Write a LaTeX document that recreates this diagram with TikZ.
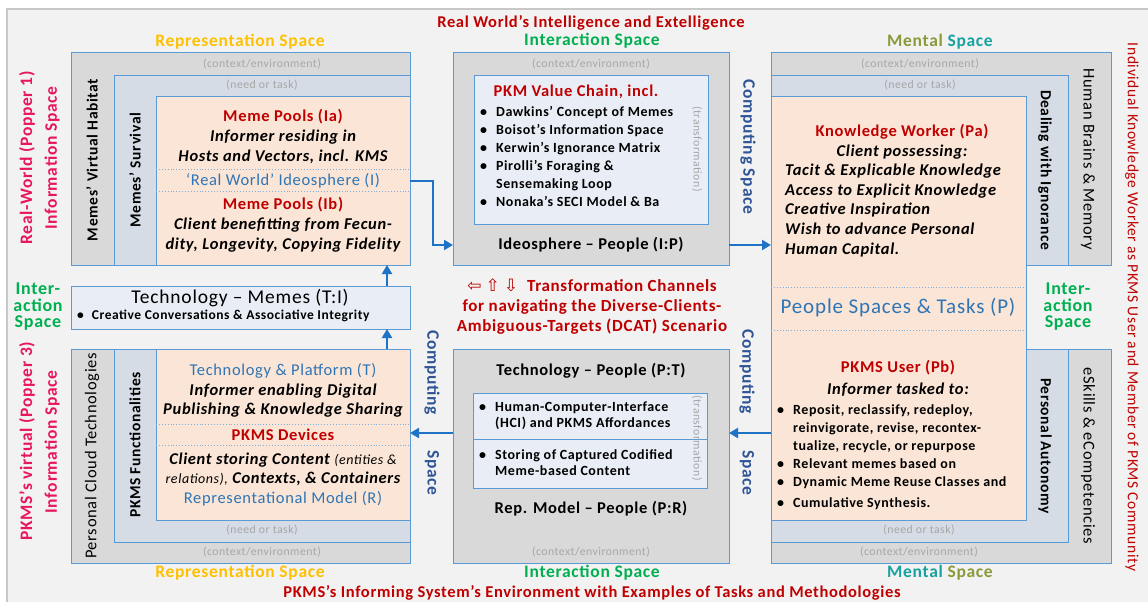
\documentclass[tikz,border=0pt]{standalone}
\usepackage{fontspec}
\setmainfont{Carlito}[LetterSpace=4]
\newfontfamily\symfont{DejaVu Sans}
\usetikzlibrary{fit,arrows.meta}
\definecolor{bgc}{HTML}{F2F2F2}
\definecolor{framec}{HTML}{C8C8C8}
\definecolor{ctxc}{HTML}{D9D9D9}
\definecolor{needc}{HTML}{D6DCE5}
\definecolor{peachc}{HTML}{FBE5D6}
\definecolor{innerc}{HTML}{E9EEF6}
\definecolor{bordc}{HTML}{5B9BD5}
\definecolor{redc}{HTML}{C00000}
\definecolor{bluec}{HTML}{2E75B6}
\definecolor{darkbluec}{HTML}{2F5597}
\definecolor{goldc}{HTML}{FFC000}
\definecolor{greenc}{HTML}{00B050}
\definecolor{pinkc}{HTML}{E8175D}
\definecolor{grayc}{HTML}{A6A6A6}
\definecolor{olivec}{HTML}{8A9A3B}
\definecolor{tealc}{HTML}{17A2A0}
\definecolor{arrc}{HTML}{1F72C4}
\newcommand\fs[2]{\fontsize{#1}{#2}\selectfont}
\begin{document}
\begin{tikzpicture}[x=1pt,y=-1pt,
  box/.style={draw=bordc, line width=1pt, inner sep=0pt, outer sep=0pt},
  ctx/.style={box, fill=ctxc},
  need/.style={box, fill=needc},
  peach/.style={box, fill=peachc},
  inbox/.style={box, fill=innerc},
  lab/.style={inner sep=0pt, align=center},
  gl/.style={lab, text=grayc, font=\fs{11.75}{12}},
  spc/.style={lab, font=\bfseries\fs{17.5}{18}},
  hd/.style={lab, text=redc, font=\bfseries\fs{16.5}{20}},
  bl/.style={lab, text=bluec, font=\fs{16.5}{20}},
  it/.style={lab, font=\bfseries\itshape\fs{16.5}{19.5}},
  vtxt/.style={lab, font=\bfseries\fs{15.5}{18}},
  vreg/.style={lab, font=\fs{16.5}{18}},
  pink/.style={lab, text=pinkc, font=\bfseries\fs{17.5}{18}},
  comp/.style={lab, text=darkbluec, font=\bfseries\fs{17.5}{18}},
  inter/.style={lab, text=greenc, font=\bfseries\fs{18}{16.5}},
  lst/.style={inner sep=0pt, anchor=north west, font=\bfseries\fs{14}{18}},
  dotl/.style={draw=bordc!80, dotted, line width=0.9pt},
  arr/.style={draw=arrc, line width=2pt, -{Triangle[length=9pt,width=10pt]}}
]
\useasboundingbox (0,0) rectangle (1148,602);
\fill[white] (0,0) rectangle (1148,602);
\fill[bgc] (7,9) rectangle (1148,602);
\draw[framec, line width=1.2pt] (7,602) -- (7,9) -- (1148,9);

% ---------- boxes ----------
\node[ctx, fit={(71,53)(410,265)}] (TLctx) {};
\node[need, fit={(114,75)(410,265)}] (TLneed) {};
\node[peach, fit={(156,96)(410,265)}] (TLpeach) {};
\draw[dotl] (156,169) -- (410,169);
\draw[dotl] (156,191) -- (410,191);

\node[ctx, fit={(453,53)(729,265)}] (TMctx) {};
\node[inbox, fit={(474,75)(708,224)}] (TMin) {};

\node[ctx, fit={(771,53)(1111,265)}] (TRctx) {};
\node[need, fit={(771,75)(1068,265)}] (TRneed) {};
\node[ctx, fit={(771,349)(1111,563)}] (BRctx) {};
\node[need, fit={(771,349)(1068,542)}] (BRneed) {};
\node[peach, fit={(771,96)(1026,520)}] (Ppeach) {};
\draw[dotl] (771,287) -- (1026,287);
\draw[dotl] (771,330) -- (1026,330);

\node[inbox, fit={(71,286)(410,329)}] (TMem) {};

\node[ctx, fit={(71,349)(410,563)}] (BLctx) {};
\node[need, fit={(114,349)(410,542)}] (BLneed) {};
\node[peach, fit={(156,349)(410,520)}] (BLpeach) {};
\draw[dotl] (156,424) -- (410,424);
\draw[dotl] (156,445) -- (410,445);

\node[ctx, fit={(453,349)(729,563)}] (BMctx) {};
\node[inbox, fit={(473,393)(707,488)}] (BMin) {};
\draw[draw=bordc, line width=1pt] (473,439) -- (707,439);

% ---------- arrows ----------
\coordinate (k1) at (433,181);
\coordinate (k2) at (433,245);
\draw[arr] (TLpeach.east |- k1) -- (k1) -- (k2) -- (TMctx.west |- k2);
\draw[arr] (TMctx.east |- k2) -- (Ppeach.west |- k2);
\coordinate (k3) at (600,433);
\draw[arr] (Ppeach.west |- k3) -- (BMctx.east |- k3);
\draw[arr] (BMctx.west |- k3) -- (BLpeach.east |- k3);
\coordinate (k4) at (387,300);
\draw[arr] (BLctx.north -| k4) -- (TMem.south -| k4);
\draw[arr] (TMem.north -| k4) -- (TLctx.south -| k4);

% ---------- top-left ----------
\node[spc, text=goldc] (rs1) at (240,42) {Representation Space};
\node[gl] (tlc) at (262,64) {(context/environment)};
\node[gl] (tln) at (262,85) {(need or task)};
\node[hd] (mpa) at (283,117) {Meme Pools (Ia)};
\node[it] (mpat) at (283,147) {Informer residing in\\Hosts and Vectors, incl. KMS};
\node[bl] (rwi) at (283,181) {‘Real World’ Ideosphere (I)};
\node[hd] (mpb) at (283,205) {Meme Pools (Ib)};
\node[it] (mpbt) at (283,235) {Client benefitting from Fecun-\\dity, Longevity, Copying Fidelity};
\node[vtxt, rotate=90] (mvh) at (92,160) {Memes’ Virtual Habitat};
\node[vtxt, rotate=90] (msu) at (135,170) {Memes’ Survival};
\node[pink, rotate=90] (rw1) at (27,158) {Real-World (Popper 1)};
\node[pink, rotate=90] (rw2) at (52,158) {Information Space};

% ---------- technology-memes ----------
\node[lab, font=\fs{19.5}{20}] (tmt) at (240,298) {Technology – Memes (T:I)};
\node[lab, anchor=west, font=\bfseries\fs{13.5}{14}] (tmb) at (77,316) {•\hspace{8pt}Creative Conversations \& Associative Integrity};
\node[inter] (intl) at (38,307) {Inter-\\action\\Space};

% ---------- bottom-left ----------
\node[bl] (tpt) at (283,371) {Technology \& Platform (T)};
\node[it] (tpi) at (283,400.5) {Informer enabling Digital\\Publishing \& Knowledge Sharing};
\node[hd] (pdev) at (283,435) {PKMS Devices};
\node[it] (cst) at (283,469.5) {Client storing Content {\mdseries\itshape\fs{14}{19.5}(entities \&}\\{\mdseries\itshape\fs{14}{19.5}relations),} Contexts, \& Containers};
\node[bl] (rmr) at (283,499) {Representational Model (R)};
\node[gl] (bln) at (262,530) {(need or task)};
\node[gl] (blc) at (262,552) {(context/environment)};
\node[spc, text=goldc] (rs2) at (240,573) {Representation Space};
\node[vreg, rotate=90] (pct) at (92,456) {Personal Cloud Technologies};
\node[vtxt, rotate=90] (pkf) at (135,445) {PKMS Functionalities};
\node[pink, rotate=90] (pv1) at (27,441) {PKMS’s virtual (Popper 3)};
\node[pink, rotate=90] (pv2) at (52,442) {Information Space};

% ---------- top-middle ----------
\node[lab, text=redc, font=\bfseries\fs{16.5}{16}] (rwt) at (591,23) {Real World’s Intelligence and Extelligence};
\node[spc, text=greenc] (is1) at (592,41) {Interaction Space};
\node[gl] (tmc) at (591,64) {(context/environment)};
\node[lab, text=redc, font=\bfseries\fs{16.5}{18}] (pvc) at (576,92) {PKM Value Chain, incl.};
\node[lst] (pvl) at (480,104) {\begin{tabular}{@{}l@{\hspace{9pt}}l@{}}
•& Dawkins’ Concept of Memes\\
•& Boisot’s Information Space\\
•& Kerwin’s Ignorance Matrix\\
•& Pirolli’s Foraging \&\\
 & Sensemaking Loop\\
•& Nonaka’s SECI Model \& Ba
\end{tabular}};
\node[gl, rotate=-90] (tr1) at (697,149) {(transformation)};
\node[lab, font=\bfseries\fs{16.5}{18}] (ip) at (591,245) {Ideosphere – People (I:P)};
\node[comp, rotate=-90] (cs1) at (748,147) {Computing Space};

% ---------- middle ----------
\node[lab, text=redc, font=\bfseries\fs{17}{20}] (tch) at (592,307) {{\symfont\mdseries\fs{17}{20}⇦\hspace{4pt}⇧\hspace{4pt}⇩}\hspace{9pt}Transformation Channels\\for navigating the Diverse-Clients-\\Ambiguous-Targets (DCAT) Scenario};
\node[comp, rotate=-90] (cs2a) at (432,373) {Computing};
\node[comp, rotate=-90] (cs2b) at (432,473) {Space};
\node[comp, rotate=-90] (cs3a) at (747,372) {Computing};
\node[comp, rotate=-90] (cs3b) at (747,473) {Space};

% ---------- bottom-middle ----------
\node[lab, font=\bfseries\fs{16.5}{18}] (tp) at (591,371) {Technology – People (P:T)};
\node[lst, font=\bfseries\fs{14}{16}] (hci) at (479,400) {\begin{tabular}{@{}l@{\hspace{9pt}}l@{}}
•& Human-Computer-Interface\\
 & (HCI) and PKMS Affordances
\end{tabular}};
\node[lst, font=\bfseries\fs{14}{16}] (sto) at (479,448) {\begin{tabular}{@{}l@{\hspace{9pt}}l@{}}
•& Storing of Captured Codified\\
 & Meme-based Content
\end{tabular}};
\node[gl, rotate=-90] (tr2) at (697,438) {(transformation)};
\node[lab, font=\bfseries\fs{16.5}{18}] (rp) at (591,509) {Rep. Model – People (P:R)};
\node[gl] (bmc) at (591,552) {(context/environment)};
\node[spc, text=greenc] (is2) at (592,573) {Interaction Space};

% ---------- right ----------
\node[spc] (ms1) at (940,42) {\textcolor{olivec}{Mental} \textcolor{tealc}{Space}};
\node[gl] (trc) at (920,64) {(context/environment)};
\node[gl] (trn) at (920,85) {(need or task)};
\node[hd] (kw) at (902,132) {Knowledge Worker (Pa)};
\node[it] (cp) at (902,152) {Client possessing:};
\node[it, align=left, anchor=west, font=\bfseries\itshape\fs{16.5}{19.75}] (kwl) at (785,210.5) {Tacit \& Explicable Knowledge\\Access to Explicit Knowledge\\Creative Inspiration\\Wish to advance Personal\\Human Capital.};
\node[vtxt, rotate=-90] (dwi) at (1045,170) {Dealing with Ignorance};
\node[vreg, rotate=-90] (hbm) at (1088,159) {Human Brains \& Memory};
\node[lab, rotate=-90, text=redc, font=\fs{15.5}{18}] (ikw) at (1132,307) {Individual Knowledge Worker as PKMS User and Member of PKMS Community};
\node[lab, text=bluec, font=\fs{21}{22}] (pst) at (898,308) {People Spaces \& Tasks (P)};
\node[inter] (intr) at (1068,307) {Inter-\\action\\Space};
\node[hd] (pu) at (898,368) {PKMS User (Pb)};
\node[it] (itt) at (898,390) {Informer tasked to:};
\node[lst] (pul) at (777,402) {\begin{tabular}{@{}l@{\hspace{9pt}}l@{}}
•& Reposit, reclassify, redeploy,\\
 & reinvigorate, revise, recontex-\\
 & tualize, recycle, or repurpose\\
•& Relevant memes based on\\
•& Dynamic Meme Reuse Classes and\\[3pt]
•& Cumulative Synthesis.
\end{tabular}};
\node[vtxt, rotate=-90] (pa) at (1045,446) {Personal Autonomy};
\node[vreg, rotate=-90] (esk) at (1088,456) {eSkills \& eCompetencies};
\node[gl] (brn) at (919,530) {(need or task)};
\node[gl] (brc) at (919,552) {(context/environment)};
\node[spc] (ms2) at (940,573) {\textcolor{tealc}{Mental} \textcolor{olivec}{Space}};

% ---------- bottom title ----------
\node[lab, text=redc, font=\bfseries\fs{16.5}{16}] (bt) at (592,593) {PKMS’s Informing System’s Environment with Examples of Tasks and Methodologies};
\end{tikzpicture}
\end{document}
